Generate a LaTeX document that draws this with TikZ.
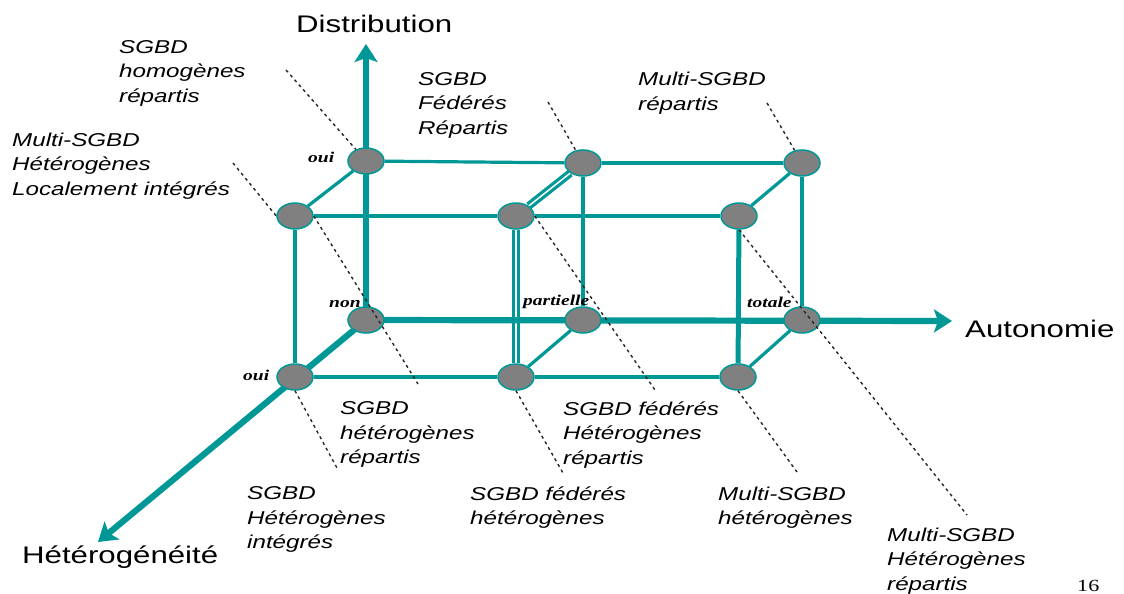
\documentclass[tikz,border=0pt]{standalone}
\usepackage{fontspec}
\setmainfont{Liberation Sans}[FakeStretch=1.3]
\newfontfamily\tagfont{Liberation Serif}[FakeStretch=1.3]
\usetikzlibrary{arrows.meta,shapes.geometric,backgrounds}

\definecolor{cubeteal}{RGB}{0,152,150}
\definecolor{vertexgray}{RGB}{128,128,128}

\tikzset{
  vertex/.style={ellipse, draw=cubeteal, line width=1.5pt, fill=vertexgray,
    minimum width=36pt, minimum height=26pt, inner sep=0pt},
  edge/.style={draw=cubeteal, line width=3.2pt},
  boldedge/.style={draw=cubeteal, line width=5pt},
  twinedge/.style={draw=cubeteal, double=white, line width=3.2pt, double distance=1.5pt},
  axis/.style={draw=cubeteal, line width=6.2pt,
    -{Stealth[length=18pt,width=23pt,inset=4pt]}},
  lead/.style={draw=black!85, line width=1.4pt, dash pattern=on 3pt off 3.5pt},
  catlabel/.style={anchor=north west, align=left, inner sep=0pt,
    font=\fontsize{18.6}{24.5}\selectfont\itshape},
  axislabel/.style={anchor=base west, inner sep=0pt,
    font=\fontsize{24}{28}\selectfont},
  tag/.style={anchor=base west, inner sep=0pt,
    font=\tagfont\bfseries\itshape\fontsize{15}{18}\selectfont}
}

\begin{document}
\begin{tikzpicture}[x=1pt,y=-1pt]
\useasboundingbox (0,0) rectangle (1124,594);

% cube vertices: back/front, top/bottom
\node[vertex] (btl) at (366,161) {};
\node[vertex] (btm) at (583,163) {};
\node[vertex] (btr) at (802,163) {};
\node[vertex] (ftl) at (295,216) {};
\node[vertex] (ftm) at (516,216) {};
\node[vertex] (ftr) at (739,216) {};
\node[vertex] (bbl) at (366,320) {};
\node[vertex] (bbm) at (583,320) {};
\node[vertex] (bbr) at (802,320) {};
\node[vertex] (fbl) at (295,377) {};
\node[vertex] (fbm) at (516,377) {};
\node[vertex] (fbr) at (738,377) {};

% axis tips
\coordinate (dtip) at (366,44);
\coordinate (atip) at (952,321);
\coordinate (htip) at (98,542);

\begin{scope}[on background layer]
  \fill[white] (0,0) rectangle (1124,594);
  % cube edges
  \draw[edge] (btl) -- (btm);
  \draw[edge] (btm) -- (btr);
  \draw[edge] (ftl) -- (ftm);
  \draw[edge] (ftm) -- (ftr);
  \draw[edge] (fbl) -- (fbm);
  \draw[edge] (fbm) -- (fbr);
  \draw[edge] (btl) -- (ftl);
  \draw[edge] (ftl) -- (fbl);
  \draw[edge] (btm) -- (bbm);
  \draw[edge] (bbm) -- (fbm);
  \draw[edge] (btr) -- (ftr);
  \draw[edge] (btr) -- (bbr);
  \draw[edge] (bbr) -- (fbr);
  \draw[twinedge] (btm) -- (ftm);
  \draw[twinedge] (ftm) -- (fbm);
  \draw[boldedge] (ftr) -- (fbr);
  % the three axes
  \draw[axis] (bbl.center) -- (dtip);
  \draw[axis] (bbl.center) -- (atip);
  \draw[axis] (bbl.center) -- (htip);
\end{scope}

% axis names
\node[axislabel] (distname) at (296,33) {Distribution};
\node[axislabel] (autoname) at (965,337) {Autonomie};
\node[axislabel] (hetename) at (22,563) {Hétérogénéité};

% values along the axes
\node[tag] (ouiD) at (308,162) {oui};
\node[tag] (nonA) at (329,307) {non};
\node[tag] (partA) at (523,305) {partielle};
\node[tag] (totA) at (747,307) {totale};
\node[tag] (ouiH) at (243,380) {oui};

% system categories
\node[catlabel] (c1) at (119,40) {SGBD\\homogènes\\répartis};
\node[catlabel] (c2) at (12,132.5) {Multi-SGBD\\Hétérogènes\\Localement intégrés};
\node[catlabel] (c3) at (418,72) {SGBD\\Fédérés\\Répartis};
\node[catlabel] (c4) at (638,72) {Multi-SGBD\\répartis};
\node[catlabel] (c5) at (340,401.5) {SGBD\\hétérogènes\\répartis};
\node[catlabel] (c6) at (563,401.5) {SGBD fédérés\\Hétérogènes\\répartis};
\node[catlabel] (c7) at (247,486.5) {SGBD\\Hétérogènes\\intégrés};
\node[catlabel] (c8) at (470,486.5) {SGBD fédérés\\hétérogènes};
\node[catlabel] (c9) at (718,486.5) {Multi-SGBD\\hétérogènes};
\node[catlabel] (c10) at (887,527.5) {Multi-SGBD\\Hétérogènes\\répartis};

% page number
\node[anchor=base west, inner sep=0pt, font=\tagfont\fontsize{17}{20}\selectfont] (pageno) at (1077,591) {16};

% leader lines from categories to vertices
\coordinate (h1) at (286,70);
\coordinate (h2) at (233,163);
\coordinate (h3) at (418,384);
\coordinate (h4) at (337,468);
\coordinate (h5) at (548,102);
\coordinate (h6) at (655,390);
\coordinate (h7) at (563,473);
\coordinate (h8) at (767,103);
\coordinate (h9) at (967,515);
\coordinate (h10) at (797,472);
\draw[lead] (h1) -- (btl);
\draw[lead] (h2) -- (ftl.west);
\draw[lead] (ftl.east) -- (h3);
\draw[lead] (fbl.south) -- (h4);
\draw[lead] (h5) -- (btm);
\draw[lead] (ftm.east) -- (h6);
\draw[lead] (fbm.south) -- (h7);
\draw[lead] (h8) -- (btr);
\draw[lead] (ftr.south) -- (h9);
\draw[lead] (fbr.south) -- (h10);
\end{tikzpicture}
\end{document}
